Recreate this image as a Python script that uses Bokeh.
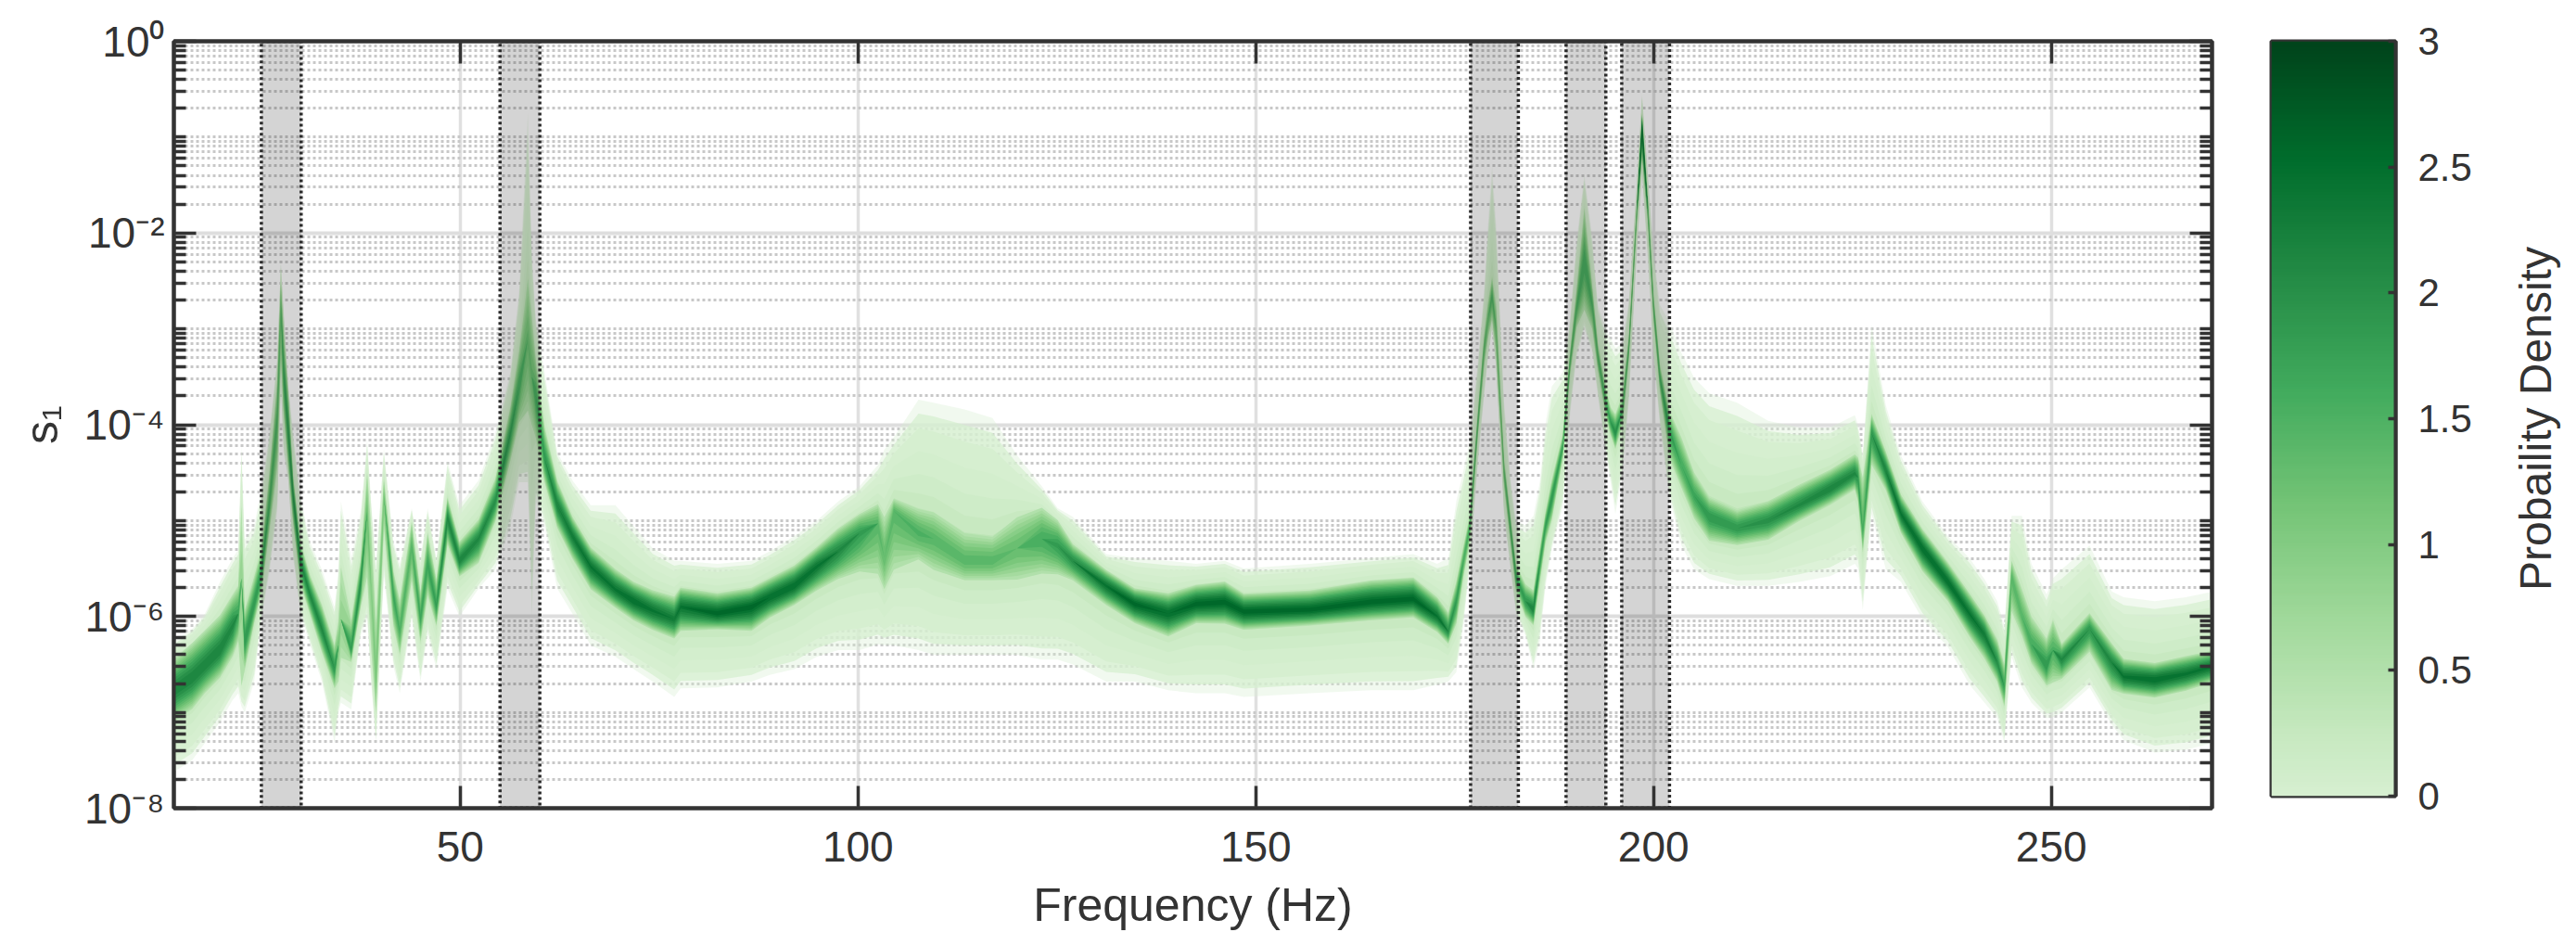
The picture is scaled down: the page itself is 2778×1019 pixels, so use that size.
import numpy as np
from bokeh.embed import file_html
from bokeh.resources import INLINE
from bokeh.plotting import figure
from bokeh.layouts import row
from bokeh.models import FixedTicker, LogAxis, LinearAxis, LinearColorMapper
from bokeh.palettes import Greens256

freq = [14,16.3,17.9,19.8,21.4,22.1,22.5,22.9,24.1,25,26,27,27.45,27.8,28.4,29,29.9,31.1,32.6,34.2,34.7,35,36.3,37.5,38.3,38.8,39.4,40.4,41.6,42.4,43.9,45,45.9,47,48.4,49.9,52.3,54.4,56.3,57.4,58.5,59.0,59.5,60.6,62.2,64.1,66.4,69.5,71.8,74.2,76.9,77.7,82.3,86.6,88.9,92,94.8,97.5,100.2,102.5,103.3,104.5,107.6,109.5,113.4,116.9,120,123.1,125.1,127,131.2,134.8,139,142.5,146.1,148.5,156.8,164.5,169.8,172.8,174.2,175.2,176.1,176.9,177.9,178.7,179.2,179.7,180.2,181.2,182,182.7,183.9,184.9,185.7,186.4,187.2,188.6,189.5,190.3,191.3,192.3,193,194,194.6,195.2,196.1,196.9,197.9,198.55,199.3,200,200.8,202,203.5,205.1,207,210.5,214.4,218.3,222.2,225.3,225.7,226.3,227.4,229.2,231.1,233.8,237,239.7,241.6,243.2,244.1,245,246.3,247.5,249.4,250.2,251.3,254.8,257.6,259.1,263,266.9,270.3]
center = [-6.77,-6.64,-6.51,-6.35,-6.1,-5.97,-5.6,-6.26,-5.87,-5.55,-4.84,-3.93,-2.75,-3.45,-4.09,-4.74,-5.42,-5.77,-6.13,-6.55,-6.3,-6.03,-6.35,-5.64,-4.9,-5.7,-6.68,-4.74,-5.77,-6.16,-5.26,-6.03,-5.45,-5.9,-4.97,-5.42,-5.19,-4.8,-4.09,-3.6,-3.1,-3.5,-3.7,-4.35,-4.84,-5.16,-5.48,-5.72,-5.84,-5.94,-6.03,-5.9,-5.97,-5.9,-5.8,-5.68,-5.48,-5.32,-5.13,-5.03,-5.39,-4.9,-5.13,-5.19,-5.42,-5.42,-5.29,-5.19,-5.26,-5.42,-5.68,-5.87,-5.97,-5.87,-5.85,-5.95,-5.93,-5.85,-5.82,-6.0,-6.16,-5.84,-5.42,-5.06,-4.0,-3.2,-2.9,-2.65,-3.0,-4.48,-5.06,-5.58,-5.84,-5.93,-5.45,-5.06,-4.77,-4.22,-3.35,-2.8,-2.3,-2.75,-3.29,-3.77,-3.97,-4.09,-3.84,-3.19,-1.78,-0.9,-1.78,-2.78,-3.51,-4.06,-4.42,-4.74,-4.96,-5.08,-5.0,-4.84,-4.67,-4.51,-4.55,-5.13,-4.09,-4.48,-4.93,-5.29,-5.64,-5.97,-6.19,-6.48,-6.74,-5.58,-6.0,-6.29,-6.52,-6.35,-6.45,-6.13,-6.48,-6.63,-6.66,-6.6,-6.52]
mid_hi = [-6.51,-6.35,-6.22,-6.06,-5.84,-5.74,-5.0,-6.0,-5.64,-5.35,-4.58,-3.61,-2.55,-3.1,-3.77,-4.58,-5.26,-5.61,-5.93,-6.35,-6.1,-5.6,-6.1,-5.45,-4.58,-5.2,-6.19,-4.6,-5.58,-5.9,-5.06,-5.8,-5.19,-5.67,-4.8,-5.26,-5.03,-4.61,-3.87,-3.3,-2.6,-3.0,-3.4,-4.09,-4.64,-5.0,-5.32,-5.55,-5.68,-5.77,-5.84,-5.74,-5.8,-5.74,-5.64,-5.51,-5.32,-5.13,-4.97,-4.87,-5.05,-4.8,-4.93,-4.97,-5.19,-5.22,-5.03,-4.93,-5.05,-5.28,-5.55,-5.74,-5.8,-5.71,-5.68,-5.8,-5.77,-5.67,-5.64,-5.84,-6.0,-5.68,-5.3,-4.97,-3.9,-3.1,-2.75,-2.5,-2.8,-4.38,-4.97,-5.48,-5.7,-5.77,-5.33,-4.95,-4.62,-4.12,-3.27,-2.65,-1.85,-2.6,-3.18,-3.65,-3.85,-3.93,-3.72,-3.1,-1.7,-0.78,-1.68,-2.68,-3.4,-3.9,-4.19,-4.55,-4.8,-4.93,-4.84,-4.67,-4.51,-4.35,-4.38,-4.67,-3.93,-4.32,-4.77,-5.13,-5.48,-5.8,-6.03,-6.29,-6.55,-5.45,-5.77,-6.06,-6.29,-6.1,-6.32,-6.0,-6.32,-6.48,-6.52,-6.45,-6.39]
mid_lo = [-7.03,-6.9,-6.74,-6.58,-6.35,-6.2,-6.5,-6.5,-6.03,-5.71,-5.06,-4.35,-3.2,-3.8,-4.4,-4.97,-5.61,-5.93,-6.32,-6.71,-6.6,-6.35,-6.45,-5.84,-5.45,-6.2,-6.94,-5.0,-6.03,-6.35,-5.55,-6.22,-5.71,-6.06,-5.19,-5.55,-5.39,-4.97,-4.32,-3.9,-3.7,-3.9,-4.05,-4.55,-5.03,-5.35,-5.67,-5.87,-6.0,-6.1,-6.19,-6.1,-6.1,-6.1,-5.97,-5.84,-5.68,-5.55,-5.45,-5.45,-5.65,-5.39,-5.35,-5.45,-5.58,-5.58,-5.55,-5.48,-5.5,-5.58,-5.84,-6.03,-6.16,-6.03,-6.03,-6.1,-6.06,-6.0,-5.97,-6.13,-6.26,-6.03,-5.55,-5.19,-4.1,-3.35,-3.05,-2.85,-3.2,-4.6,-5.19,-5.7,-5.97,-6.06,-5.6,-5.2,-4.95,-4.32,-3.45,-2.95,-2.7,-2.95,-3.4,-3.88,-4.08,-4.22,-3.97,-3.28,-1.86,-1.15,-1.88,-2.88,-3.62,-4.29,-4.61,-4.93,-5.16,-5.22,-5.16,-4.97,-4.8,-4.64,-4.75,-5.29,-4.35,-4.64,-5.09,-5.48,-5.8,-6.16,-6.39,-6.64,-6.9,-5.87,-6.16,-6.45,-6.68,-6.62,-6.61,-6.32,-6.71,-6.77,-6.81,-6.74,-6.65]
outer_hi = [-6.26,-6.13,-5.97,-5.64,-5.39,-5.3,-4.22,-5.2,-5.06,-4.67,-4.09,-3.3,-2.3,-2.8,-3.6,-4.09,-4.74,-5.22,-5.51,-5.9,-5.5,-4.8,-5.39,-4.9,-4.16,-4.8,-5.45,-4.25,-5.22,-5.45,-4.87,-5.39,-4.87,-5.39,-4.38,-4.84,-4.58,-4.09,-3.45,-2.6,-0.75,-2.2,-2.9,-3.45,-4.29,-4.58,-4.84,-4.84,-5.06,-5.29,-5.42,-5.42,-5.45,-5.42,-5.32,-5.16,-5.0,-4.8,-4.64,-4.42,-4.26,-4.13,-3.74,-3.77,-3.84,-3.93,-4.32,-4.64,-4.87,-4.96,-5.35,-5.39,-5.42,-5.45,-5.42,-5.5,-5.45,-5.39,-5.35,-5.45,-5.39,-4.8,-4.48,-4.16,-3.35,-2.6,-1.9,-1.3,-1.9,-3.75,-4.55,-5.0,-5.05,-4.95,-4.6,-4.0,-3.6,-3.45,-2.9,-2.1,-1.39,-2.05,-2.75,-3.0,-3.1,-3.2,-3.15,-2.7,-1.45,-0.55,-1.4,-2.2,-2.75,-2.93,-3.25,-3.51,-3.67,-3.77,-3.96,-4.03,-4.03,-3.9,-4.0,-4.29,-2.96,-3.8,-4.32,-4.8,-5.16,-5.39,-5.61,-5.84,-6.1,-4.95,-4.95,-5.45,-5.77,-5.6,-5.51,-5.26,-5.74,-5.8,-5.84,-5.8,-5.74]
outer_lo = [-7.62,-7.5,-7.32,-7.1,-6.87,-6.8,-6.94,-7.0,-6.68,-6.03,-5.55,-4.9,-3.6,-4.3,-4.6,-5.39,-5.97,-6.29,-6.68,-7.32,-7.0,-6.9,-6.97,-6.19,-6.03,-6.7,-7.32,-5.58,-6.52,-6.8,-6.03,-6.68,-6.19,-6.55,-5.71,-6.0,-5.71,-5.51,-5.06,-4.6,-4.6,-6.0,-4.8,-5.06,-5.71,-5.97,-6.3,-6.42,-6.55,-6.68,-6.84,-6.75,-6.74,-6.68,-6.61,-6.55,-6.42,-6.35,-6.35,-6.29,-6.3,-6.3,-6.35,-6.4,-6.4,-6.4,-6.4,-6.45,-6.45,-6.5,-6.68,-6.68,-6.77,-6.8,-6.8,-6.84,-6.8,-6.77,-6.77,-6.71,-6.68,-6.58,-6.1,-5.45,-4.42,-3.7,-3.3,-3.0,-3.4,-4.95,-5.5,-5.97,-6.2,-6.55,-6.26,-5.7,-5.3,-4.85,-3.9,-3.3,-3.0,-3.25,-3.7,-4.3,-4.6,-4.93,-4.5,-3.75,-2.2,-1.4,-2.3,-3.3,-4.0,-4.77,-5.26,-5.51,-5.61,-5.68,-5.68,-5.64,-5.58,-5.45,-5.5,-5.93,-4.93,-5.51,-5.64,-6.03,-6.32,-6.71,-6.9,-7.06,-7.32,-6.42,-6.74,-6.9,-7.06,-7.05,-7.0,-6.74,-7.13,-7.29,-7.42,-7.39,-7.32]
peak = [2.3,2.3,2.3,2.3,2.2,1.8,0.9,2.0,2.0,2.0,1.7,1.6,1.4,1.8,2.0,2.1,2.2,2.2,2.2,2.0,1.2,0.9,1.9,2.1,1.3,1.0,1.2,1.2,1.8,1.6,1.5,1.8,1.8,1.9,2.2,2.3,2.2,2.1,1.9,1.7,1.3,1.3,1.7,2.0,2.3,2.4,2.5,2.5,2.6,2.5,2.4,2.5,2.7,2.7,2.6,2.6,2.5,2.2,1.9,1.5,1.4,1.5,1.6,1.5,1.5,1.5,1.4,1.7,1.9,2.1,2.5,2.7,2.6,2.7,2.7,2.7,2.7,2.7,2.7,2.5,2.1,1.9,1.7,1.7,1.6,1.5,1.4,1.6,1.3,1.5,1.7,1.8,2.0,2.3,1.9,1.9,2.0,1.8,1.6,1.6,1.7,1.6,1.6,1.7,1.9,2.1,1.6,1.6,1.5,2.6,1.6,1.6,1.7,1.9,1.7,1.8,2.0,2.0,2.1,2.2,2.3,2.2,2.0,1.6,2.0,2.3,2.5,2.6,2.6,2.5,2.4,2.1,1.8,1.5,1.5,1.7,2.0,1.6,2.2,2.0,2.2,2.5,2.6,2.5,2.5]

band_left = [25, 55, 177, 189, 196]
band_right = [30, 60, 183, 194, 202]

x_ticks = [50, 100, 150, 200, 250]
y_major = [1e0, 1e-2, 1e-4, 1e-6, 1e-8]
y_labels = ["10⁰", "10⁻²", "10⁻⁴", "10⁻⁶", "10⁻⁸"]
y_minor = [m * 10.0 ** e for e in range(-8, 0) for m in (2, 3, 4, 5, 6, 7, 8, 9)] + [1e-1, 1e-3, 1e-5, 1e-7]
cb_ticks = [0, 0.5, 1, 1.5, 2, 2.5, 3]
cb_labels = ["0", "0.5", "1", "1.5", "2", "2.5", "3"]

# light -> dark, density 0..3
palette = list(reversed(Greens256[:208]))
FONT = "Liberation Sans"
DARK = "#333333"


def dens_colour(d):
    return palette[min(int(d / 3.0 * (len(palette) - 1)), len(palette) - 1)]


p = figure(width=2400, height=1000, frame_width=2198, frame_height=827,
           x_range=(14, 270.2), y_range=(1e-8, 1), y_axis_type="log",
           min_border_left=187, min_border_right=15, min_border_top=44, min_border_bottom=129,
           toolbar_location=None, output_backend="svg", background_fill_color="white")
p.outline_line_color = DARK
p.outline_line_width = 4

yt = FixedTicker(ticks=y_major, minor_ticks=y_minor)
xt = FixedTicker(ticks=x_ticks, minor_ticks=[])

ax = p.yaxis[0]
ax.ticker = yt
ax.major_label_overrides = dict(zip(y_major, y_labels))
ax.axis_label = "s₁"
xa = p.xaxis[0]
xa.ticker = xt
xa.axis_label = "Frequency (Hz)"
for a in (ax, xa):
    a.axis_line_color = DARK
    a.axis_line_width = 4
    a.major_tick_line_color = DARK
    a.major_tick_line_width = 3.5
    a.major_tick_out = 0
    a.major_tick_in = 24
    a.minor_tick_line_color = DARK
    a.minor_tick_line_width = 3.5
    a.minor_tick_out = 0
    a.minor_tick_in = 13
    a.major_label_text_font = FONT
    a.major_label_text_font_size = "46px"
    a.major_label_text_color = DARK
    a.axis_label_text_font = FONT
    a.axis_label_text_font_size = "50px"
    a.axis_label_text_font_style = "normal"
    a.axis_label_text_color = DARK
xa.minor_tick_line_color = None
xa.major_label_standoff = 25
xa.axis_label_standoff = 16
ax.major_label_standoff = 10
ax.axis_label_standoff = 15

right = LogAxis(ticker=yt, major_label_overrides={v: "" for v in y_major},
                major_tick_in=24, major_tick_out=0, minor_tick_in=13, minor_tick_out=0,
                major_tick_line_color=DARK, minor_tick_line_color=DARK,
                major_tick_line_width=3.5, minor_tick_line_width=3.5,
                axis_line_color=DARK, axis_line_width=4, major_label_standoff=0)
p.add_layout(right, "right")
top = LinearAxis(ticker=xt, major_label_overrides={v: "" for v in x_ticks},
                 major_tick_in=24, major_tick_out=0, minor_tick_line_color=None,
                 major_tick_line_color=DARK, major_tick_line_width=3.5,
                 axis_line_color=DARK, axis_line_width=4, major_label_standoff=0)
p.add_layout(top, "above")

g = p.ygrid[0]
g.ticker = yt
g.grid_line_color = "#dedede"
g.grid_line_width = 4
g.minor_grid_line_color = "#c8c8c8"
g.minor_grid_line_width = 3
g.minor_grid_line_dash = "3 3"
g = p.xgrid[0]
g.ticker = xt
g.grid_line_color = "#e0e0e0"
g.grid_line_width = 3.5

f = np.array(freq)
c = np.array(center)
mh, ml = np.array(mid_hi), np.array(mid_lo)
oh, ol = np.array(outer_hi), np.array(outer_lo)
pk = np.array(peak)
assert all(len(a) == len(f) for a in (c, mh, ml, oh, ol, pk))

# nested density layers between the read-off envelopes
for t, d, alpha in [(0.0, 0.0, 0.35), (0.12, 0.0, 0.75), (0.25, 0.0, 1.0), (0.45, 0.05, 1.0),
                    (0.65, 0.12, 1.0), (0.82, 0.22, 1.0), (0.95, 0.36, 1.0)]:
    p.varea(f, 10 ** (ol + (ml - ol) * t), 10 ** (oh + (mh - oh) * t),
            fill_color=dens_colour(d), fill_alpha=alpha)
for d in [0.5, 0.65, 0.8, 0.95, 1.1, 1.25, 1.4, 1.55, 1.7, 1.85, 2.0, 2.15, 2.3, 2.45, 2.6]:
    t = np.clip((pk - d) / (pk - 0.5), 0, 1) ** 0.7
    p.varea(f, 10 ** (c + (ml - c) * t * 1.25), 10 ** (c + (mh - c) * t * 1.25),
            fill_color=dens_colour(d))

p.quad(left=band_left, right=band_right, bottom=1e-8, top=1,
       fill_color="#000000", fill_alpha=0.17, line_color="#2b2b2b",
       line_width=3.5, line_dash="3 3")

# colour bar as its own small figure
mapper = LinearColorMapper(palette=palette, low=0, high=3)
cb = figure(width=290, height=1000, frame_width=134, frame_height=814,
            x_range=(0, 1), y_range=(0, 3), y_axis_location="right",
            min_border_left=49, min_border_right=107, min_border_top=44, min_border_bottom=142,
            toolbar_location=None, output_backend="svg")
cb.image(image=[np.linspace(0, 3, 256).reshape(256, 1)], x=0, y=0, dw=1, dh=3, color_mapper=mapper)
cb.grid.visible = False
cb.xaxis.visible = False
cb.outline_line_color = DARK
cb.outline_line_width = 4
ca = cb.yaxis[0]
ca.ticker = FixedTicker(ticks=cb_ticks)
ca.major_label_overrides = dict(zip(cb_ticks, cb_labels))
ca.axis_line_color = DARK
ca.axis_line_width = 4
ca.major_tick_in = 8
ca.major_tick_out = 0
ca.major_tick_line_color = DARK
ca.major_tick_line_width = 3.5
ca.minor_tick_line_color = None
ca.major_label_text_font = FONT
ca.major_label_text_font_size = "42px"
ca.major_label_text_color = DARK
ca.major_label_standoff = 24

# holder for the colour-bar title, so that it reads bottom to top
lab = figure(width=80, height=1000, frame_width=10, frame_height=814,
             x_range=(0, 1), y_range=(0, 1),
             min_border_left=70, min_border_right=0, min_border_top=44, min_border_bottom=142,
             toolbar_location=None, output_backend="svg", outline_line_color=None)
lab.grid.visible = False
lab.xaxis.visible = False
la = lab.yaxis[0]
la.ticker = FixedTicker(ticks=[])
la.axis_line_color = None
la.major_tick_line_color = None
la.minor_tick_line_color = None
la.axis_label = "Probaility Density"
la.axis_label_standoff = 0
la.axis_label_text_font = FONT
la.axis_label_text_font_size = "48px"
la.axis_label_text_font_style = "normal"
la.axis_label_text_color = DARK

layout = row(p, cb, lab, spacing=0)
open("out.html", "w").write(file_html(layout, INLINE))
